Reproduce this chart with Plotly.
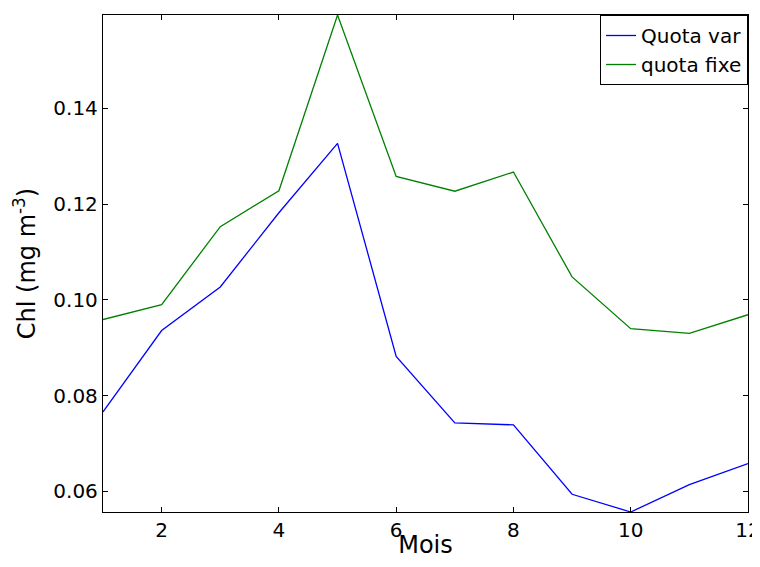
import plotly.graph_objects as go

mois = [1, 2, 3, 4, 5, 6, 7, 8, 9, 10, 11, 12]
quota_var = [0.0766, 0.0936, 0.1027, 0.1182, 0.1327, 0.0882, 0.0743, 0.0739, 0.0594, 0.0557, 0.0614, 0.0658]
quota_fixe = [0.0959, 0.0990, 0.1153, 0.1228, 0.1595, 0.1258, 0.1227, 0.1267, 0.1048, 0.0940, 0.0930, 0.0969]
y_ticks = [0.06, 0.08, 0.10, 0.12, 0.14]
x_ticks = [2, 4, 6, 8, 10, 12]

fig = go.Figure()
fig.add_trace(go.Scatter(x=mois, y=quota_var, mode="lines", name="Quota var",
                         line=dict(color="#0000ff", width=1.3)))
fig.add_trace(go.Scatter(x=mois, y=quota_fixe, mode="lines", name="quota fixe",
                         line=dict(color="#008000", width=1.3)))

font_family = "DejaVu Sans"
# page body has an 8px default margin; keep figure + margins inside the 760x567 window
fig.update_layout(
    width=752, height=551,
    margin=dict(l=95, r=12, t=7, b=47, autoexpand=False),
    plot_bgcolor="white", paper_bgcolor="white",
    font=dict(family=font_family, color="black", size=20),
    showlegend=True,
    legend=dict(x=1, y=1, xanchor="right", yanchor="top",
                bordercolor="black", borderwidth=1, bgcolor="white",
                font=dict(size=20), itemwidth=30, tracegroupgap=0),
)
fig.update_xaxes(
    range=[1, 12], tickvals=x_ticks, ticktext=[str(v) for v in x_ticks],
    showgrid=False, zeroline=False, showline=True, linecolor="black", linewidth=1.3,
    mirror="ticks", ticks="inside", ticklen=5, tickcolor="black", tickwidth=1,
    tickfont=dict(size=20), ticklabeloverflow="allow", automargin=False,
    title=dict(text="Mois", font=dict(size=24), standoff=0),
)
fig.update_yaxes(
    range=[min(quota_var), max(quota_fixe)], tickvals=y_ticks,
    ticktext=["%.2f" % v for v in y_ticks],
    showgrid=False, zeroline=False, showline=True, linecolor="black", linewidth=1.3,
    mirror="ticks", ticks="inside", ticklen=5, tickcolor="black", tickwidth=1,
    tickfont=dict(size=20), automargin=False,
    title=dict(text="Chl (mg m<sup>-3</sup>)", font=dict(size=24), standoff=10),
)
fig.write_html("out.html")
